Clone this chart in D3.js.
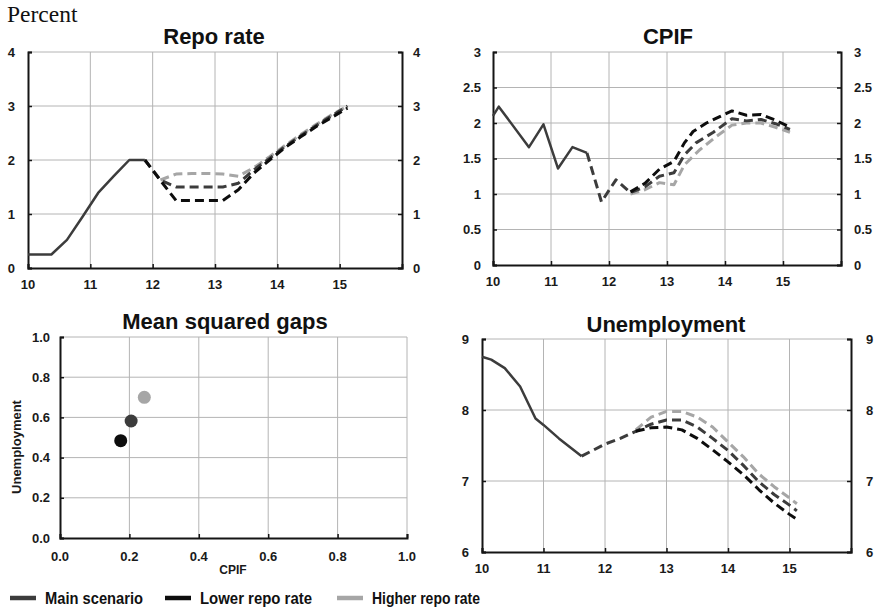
<!DOCTYPE html>
<html><head><meta charset="utf-8">
<script src="https://cdn.jsdelivr.net/npm/d3@7"></script>
<style>body{margin:0;background:#fff}svg{display:block}</style>
</head><body>
<svg id="c" width="876" height="611"></svg>
<script>
// ---------- DATA ----------
const xTickYears = [10, 11, 12, 13, 14, 15];
const repoTicks = [0, 1, 2, 3, 4];
const cpifTicks = [0, 0.5, 1, 1.5, 2, 2.5, 3];
const unempTicks = [6, 7, 8, 9];
const gapTicks = [0, 0.2, 0.4, 0.6, 0.8, 1.0];

const seriesNames = ["Main scenario", "Lower repo rate", "Higher repo rate"];

// Repo rate [year, percent]
const repoOutcome = [[10.0,0.25],[10.375,0.25],[10.625,0.52],[10.875,0.95],[11.125,1.39],[11.375,1.70],[11.625,2.0],[11.875,2.0]];
const repoMain = [[11.875,2.0],[12.125,1.63],[12.375,1.5],[12.625,1.5],[12.875,1.5],[13.125,1.5],[13.375,1.57],[13.625,1.82],[13.875,2.03],[14.125,2.25],[14.375,2.45],[14.625,2.64],[14.875,2.82],[15.125,3.0]];
const repoLower = [[11.875,2.0],[12.125,1.62],[12.375,1.25],[12.625,1.25],[12.875,1.25],[13.125,1.25],[13.375,1.45],[13.625,1.76],[13.875,2.0],[14.125,2.23],[14.375,2.43],[14.625,2.62],[14.875,2.79],[15.125,2.96]];
const repoHigher = [[12.125,1.63],[12.375,1.74],[12.625,1.75],[12.875,1.75],[13.125,1.74],[13.375,1.70],[13.625,1.86],[13.875,2.06],[14.125,2.27],[14.375,2.47],[14.625,2.66],[14.875,2.84],[15.125,3.0]];

// CPIF [year, percent]
const cpifOutcome = [[10.0,2.1],[10.1,2.23],[10.62,1.66],[10.87,1.98],[11.12,1.36],[11.37,1.66],[11.62,1.58]];
const cpifMain = [[11.62,1.58],[11.87,0.89],[12.12,1.20],[12.37,1.02],[12.62,1.10],[12.87,1.25],[13.12,1.30],[13.3,1.55],[13.5,1.72],[13.8,1.87],[14.12,2.06],[14.37,2.03],[14.62,2.05],[14.87,1.99],[15.12,1.91]];
const cpifLower = [[12.37,1.03],[12.62,1.15],[12.87,1.35],[13.12,1.46],[13.3,1.72],[13.45,1.88],[13.68,2.0],[13.91,2.09],[14.12,2.17],[14.37,2.11],[14.62,2.12],[14.87,2.04],[15.12,1.94]];
const cpifHigher = [[12.37,1.0],[12.62,1.06],[12.87,1.16],[13.12,1.13],[13.3,1.41],[13.56,1.62],[13.85,1.81],[14.12,1.97],[14.37,2.0],[14.62,2.0],[14.87,1.94],[15.12,1.87]];

// Unemployment [year, percent]
const unempOutcome = [[10.0,8.75],[10.15,8.71],[10.37,8.59],[10.62,8.33],[10.87,7.88],[11.0,7.79],[11.25,7.6],[11.62,7.35]];
const unempMain = [[11.62,7.35],[12.0,7.52],[12.25,7.6],[12.5,7.7],[12.75,7.8],[13.0,7.86],[13.25,7.86],[13.5,7.76],[13.75,7.6],[14.0,7.43],[14.25,7.22],[14.5,6.99],[14.75,6.81],[15.0,6.66],[15.12,6.58]];
const unempLower = [[12.5,7.7],[12.75,7.75],[13.0,7.76],[13.25,7.72],[13.5,7.6],[13.75,7.44],[14.0,7.27],[14.25,7.09],[14.5,6.88],[14.75,6.69],[15.0,6.53],[15.12,6.46]];
const unempHigher = [[12.5,7.72],[12.75,7.9],[13.0,7.98],[13.25,7.98],[13.5,7.9],[13.75,7.76],[14.0,7.55],[14.25,7.34],[14.5,7.1],[14.75,6.92],[15.0,6.76],[15.12,6.68]];

// Mean squared gaps: [CPIF, Unemployment]
const gapMain = [0.205, 0.582];
const gapLower = [0.175, 0.484];
const gapHigher = [0.243, 0.70];

// ---------- STYLE ----------
const colMain = "#3c3c3c", colLower = "#0d0d0d", colHigher = "#a6a6a6";
const gridCol = "#b4b4b4", axisCol = "#151515";
const FONT = "'Liberation Sans', Arial, sans-serif";

const svg = d3.select("#c");

svg.append("text").attr("x", 7).attr("y", 22)
  .attr("font-family", "'Liberation Serif','Times New Roman',serif")
  .attr("font-size", 23.5).attr("fill", "#111").text("Percent");

function timePanel(o) {
  const g = svg.append("g");
  const x = d3.scaleLinear().domain([10, 16]).range([o.x0, o.x1]);
  const y = d3.scaleLinear().domain(o.yDom).range([o.y1, o.y0]);
  // grid
  g.selectAll(".vg").data(xTickYears.slice(1)).join("line")
    .attr("x1", d => x(d)).attr("x2", d => x(d)).attr("y1", o.y0).attr("y2", o.y1)
    .attr("stroke", gridCol).attr("stroke-width", 1);
  g.selectAll(".hg").data(o.yTicks.slice(1)).join("line")
    .attr("x1", o.x0).attr("x2", o.x1).attr("y1", d => y(d)).attr("y2", d => y(d))
    .attr("stroke", gridCol).attr("stroke-width", 1);
  // axes (inward ticks)
  const ax = d3.axisTop(x).tickValues(xTickYears).tickSize(4).tickFormat("");
  g.append("g").attr("transform", `translate(0,${o.y1})`).call(ax);
  g.append("g").attr("transform", `translate(${o.x0},0)`).call(d3.axisRight(y).tickValues(o.yTicks).tickSize(4).tickFormat(""));
  g.append("g").attr("transform", `translate(${o.x1},0)`).call(d3.axisLeft(y).tickValues(o.yTicks).tickSize(4).tickFormat(""));
  g.selectAll(".domain").attr("stroke", axisCol).attr("stroke-width", 2);
  g.selectAll(".tick line").attr("stroke", axisCol).attr("stroke-width", 1.5);
  // labels
  const lab = { "font-family": FONT, "font-weight": "bold", "font-size": 13, fill: "#1a1a1a" };
  const tl = (sel) => { for (const k in lab) sel.attr(k, lab[k]); return sel; };
  tl(g.selectAll(".xl").data(xTickYears).join("text")
    .attr("x", d => x(d)).attr("y", o.y1 + o.xlOff).attr("text-anchor", "middle").text(d => d));
  tl(g.selectAll(".yl").data(o.yTicks).join("text")
    .attr("x", o.x0 - o.ylGap).attr("y", d => y(d) + 4.5).attr("text-anchor", "end").text(d => d));
  tl(g.selectAll(".yr").data(o.yTicks).join("text")
    .attr("x", o.x1 + o.yrGap).attr("y", d => y(d) + 4.5).attr("text-anchor", "start").text(d => d));
  // title
  g.append("text").attr("x", o.tx).attr("y", o.ty).attr("text-anchor", "middle")
    .attr("font-family", FONT).attr("font-weight", "bold").attr("font-size", 22).attr("fill", "#111").text(o.title);
  // lines
  const line = d3.line().x(d => x(d[0])).y(d => y(d[1]));
  const draw = (data, col, dashed, w) => g.append("path").datum(data).attr("d", line)
    .attr("fill", "none").attr("stroke", col).attr("stroke-width", w)
    .attr("stroke-linejoin", "round")
    .attr("stroke-dasharray", dashed ? "9,5" : null);
  draw(o.higher, colHigher, true, 3);
  draw(o.main, colMain, true, 3);
  draw(o.lower, colLower, true, 3);
  draw(o.outcome, colMain, false, 2.5);
}

timePanel({ x0: 28, x1: 402, y0: 52, y1: 268, yDom: [0, 4], yTicks: repoTicks,
  xlOff: 21, ylGap: 13, yrGap: 11, tx: 214, ty: 44, title: "Repo rate",
  outcome: repoOutcome, main: repoMain, lower: repoLower, higher: repoHigher });
timePanel({ x0: 493, x1: 841, y0: 52, y1: 265, yDom: [0, 3], yTicks: cpifTicks,
  xlOff: 21, ylGap: 12, yrGap: 13, tx: 668, ty: 44, title: "CPIF",
  outcome: cpifOutcome, main: cpifMain, lower: cpifLower, higher: cpifHigher });
timePanel({ x0: 482, x1: 851, y0: 339, y1: 552, yDom: [6, 9], yTicks: unempTicks,
  xlOff: 21, ylGap: 13, yrGap: 15, tx: 666, ty: 332, title: "Unemployment",
  outcome: unempOutcome, main: unempMain, lower: unempLower, higher: unempHigher });

// scatter panel
(function () {
  const x0 = 60, x1 = 407, y0 = 337, y1 = 538;
  const g = svg.append("g");
  const x = d3.scaleLinear().domain([0, 1]).range([x0, x1]);
  const y = d3.scaleLinear().domain([0, 1]).range([y1, y0]);
  g.selectAll(".vg").data(gapTicks.slice(1)).join("line")
    .attr("x1", d => x(d)).attr("x2", d => x(d)).attr("y1", y0).attr("y2", y1)
    .attr("stroke", gridCol).attr("stroke-width", 1);
  g.selectAll(".hg").data(gapTicks.slice(1)).join("line")
    .attr("x1", x0).attr("x2", x1).attr("y1", d => y(d)).attr("y2", d => y(d))
    .attr("stroke", gridCol).attr("stroke-width", 1);
  g.append("g").attr("transform", `translate(0,${y1})`).call(d3.axisTop(x).tickValues(gapTicks).tickSize(4).tickFormat(""));
  g.append("g").attr("transform", `translate(${x0},0)`).call(d3.axisRight(y).tickValues(gapTicks).tickSize(4).tickFormat(""));
  g.selectAll(".domain").attr("stroke", axisCol).attr("stroke-width", 2);
  g.selectAll(".tick line").attr("stroke", axisCol).attr("stroke-width", 1.5);
  const f = d3.format(".1f");
  g.selectAll(".xl").data(gapTicks).join("text")
    .attr("x", d => x(d)).attr("y", y1 + 23).attr("text-anchor", "middle")
    .attr("font-family", FONT).attr("font-weight", "bold").attr("font-size", 13).attr("fill", "#1a1a1a").text(f);
  g.selectAll(".yl").data(gapTicks).join("text")
    .attr("x", x0 - 10).attr("y", d => y(d) + 4.5).attr("text-anchor", "end")
    .attr("font-family", FONT).attr("font-weight", "bold").attr("font-size", 13).attr("fill", "#1a1a1a").text(f);
  g.append("text").attr("x", 233).attr("y", 574).attr("text-anchor", "middle")
    .attr("font-family", FONT).attr("font-weight", "bold").attr("font-size", 12).attr("fill", "#1a1a1a").text("CPIF");
  g.append("text").attr("transform", "translate(21,447) rotate(-90)").attr("text-anchor", "middle")
    .attr("font-family", FONT).attr("font-weight", "bold").attr("font-size", 13).attr("fill", "#1a1a1a").text("Unemployment");
  g.append("text").attr("x", 225).attr("y", 329).attr("text-anchor", "middle")
    .attr("font-family", FONT).attr("font-weight", "bold").attr("font-size", 22).attr("fill", "#111").text("Mean squared gaps");
  const pts = [[gapHigher, colHigher], [gapMain, colMain], [gapLower, colLower]];
  g.selectAll("circle").data(pts).join("circle")
    .attr("cx", d => x(d[0][0])).attr("cy", d => y(d[0][1])).attr("r", 6.5).attr("fill", d => d[1]);
})();

// legend
const legendItems = [
  { name: seriesNames[0], col: colMain, sx: 10, tx: 45, len: 98 },
  { name: seriesNames[1], col: colLower, sx: 165, tx: 200, len: 112 },
  { name: seriesNames[2], col: colHigher, sx: 337, tx: 372, len: 108 }
];
const lg = svg.append("g");
legendItems.forEach(it => {
  lg.append("line").attr("x1", it.sx).attr("x2", it.sx + 26).attr("y1", 598).attr("y2", 598)
    .attr("stroke", it.col).attr("stroke-width", 4.5);
  lg.append("text").attr("x", it.tx).attr("y", 604)
    .attr("font-family", FONT).attr("font-weight", "bold").attr("font-size", 17)
    .attr("textLength", it.len).attr("lengthAdjust", "spacingAndGlyphs")
    .attr("fill", "#111").text(it.name);
});
</script>
</body></html>
